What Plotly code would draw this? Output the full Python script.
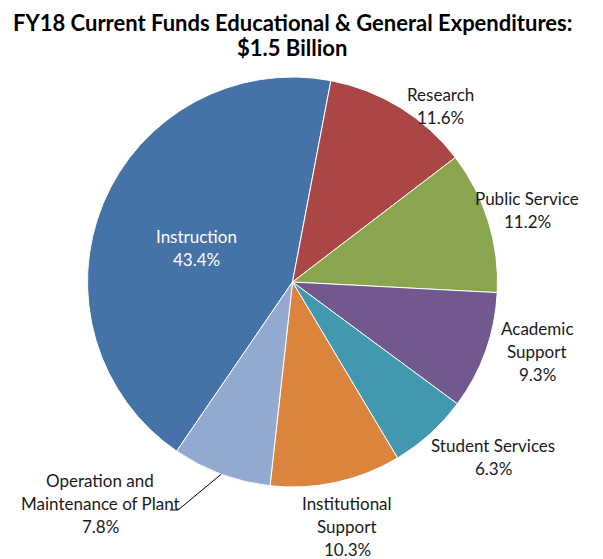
import math
import plotly.graph_objects as go

# FY18 E&G expenditure shares (percent of $1.5B)
categories = ["Instruction", "Research", "Public Service", "Academic Support",
              "Student Services", "Institutional Support",
              "Operation and Maintenance of Plant"]
shares = [43.4, 11.6, 11.2, 9.3, 6.3, 10.3, 7.8]
colors = ["#4572A7", "#AA4643", "#89A54E", "#71588F", "#4198AF", "#DB843D", "#93A9CF"]

title_lines = ["FY18 Current Funds Educational & General Expenditures:", "$1.5 Billion"]

# how each label's name is broken over lines
label_lines = {
    "Instruction": ["Instruction"],
    "Research": ["Research"],
    "Public Service": ["Public Service"],
    "Academic Support": ["Academic", "Support"],
    "Student Services": ["Student Services"],
    "Institutional Support": ["Institutional", "Support"],
    "Operation and Maintenance of Plant": ["Operation and", "Maintenance of Plant"],
}
# top-line centre of each label block, in pixels of the 603x559 canvas
label_anchor = {
    "Instruction": (196, 236),
    "Research": (440, 94),
    "Public Service": (527, 198),
    "Academic Support": (537, 328),
    "Student Services": (493, 445),
    "Institutional Support": (347, 503),
    "Operation and Maintenance of Plant": (100, 480),
}

W, H = 603, 559
CX, CY, R = 292.5, 282.0, 205.0
LINE_GAP = 23
FONT = "Lato, 'Open Sans', sans-serif"


def to_paper(x, y):
    return x / W, 1 - y / H


fig = go.Figure(go.Pie(
    labels=categories,
    values=shares,
    sort=False,
    direction="clockwise",
    rotation=-145.6,
    marker=dict(colors=colors, line=dict(color="white", width=1)),
    textinfo="none",
    hoverinfo="label+percent",
    domain=dict(x=[(CX - R) / W, (CX + R) / W], y=[1 - (CY + R) / H, 1 - (CY - R) / H]),
))

annotations = []

# two-line bold title
for i, txt in enumerate(title_lines):
    tx, ty = to_paper(292, 22 + 25 * i)
    annotations.append(dict(
        x=tx, y=ty, xref="paper", yref="paper", text=f"<b>{txt}</b>", showarrow=False,
        xanchor="center", yanchor="middle",
        font=dict(family=FONT, size=22, color="black"),
    ))

for name, val in zip(categories, shares):
    lines = label_lines[name] + [f"{val:.1f}%"]
    ax, ay = label_anchor[name]
    color = "white" if name == "Instruction" else "#1a1a1a"
    px, py = to_paper(ax, ay)
    for i, txt in enumerate(lines):
        annotations.append(dict(
            x=px, y=py, xref="paper", yref="paper", text=txt, showarrow=False,
            xanchor="center", yanchor="middle", yshift=-LINE_GAP * i,
            font=dict(family=FONT, size=17, color=color),
        ))

# leader line for the Operation and Maintenance slice, from its mid-angle on the rim
total = sum(shares)
start = -145.6 + 360
cum = 0.0
for name, val in zip(categories, shares):
    if name == "Operation and Maintenance of Plant":
        mid = start + (cum + val / 2) / total * 360
    cum += val
rim_x = CX + R * math.sin(math.radians(mid))
rim_y = CY - R * math.cos(math.radians(mid))
elbow = (178, 510)
tail = (170, 510)
shapes = []
for (x0, y0), (x1, y1) in [((rim_x, rim_y), elbow), (elbow, tail)]:
    p0, p1 = to_paper(x0, y0), to_paper(x1, y1)
    shapes.append(dict(type="line", xref="paper", yref="paper",
                       x0=p0[0], y0=p0[1], x1=p1[0], y1=p1[1],
                       line=dict(color="black", width=1)))

fig.update_layout(
    width=W, height=H,
    margin=dict(l=0, r=0, t=0, b=0),
    paper_bgcolor="white",
    showlegend=False,
    annotations=annotations,
    shapes=shapes,
)

fig.write_html("out.html")
